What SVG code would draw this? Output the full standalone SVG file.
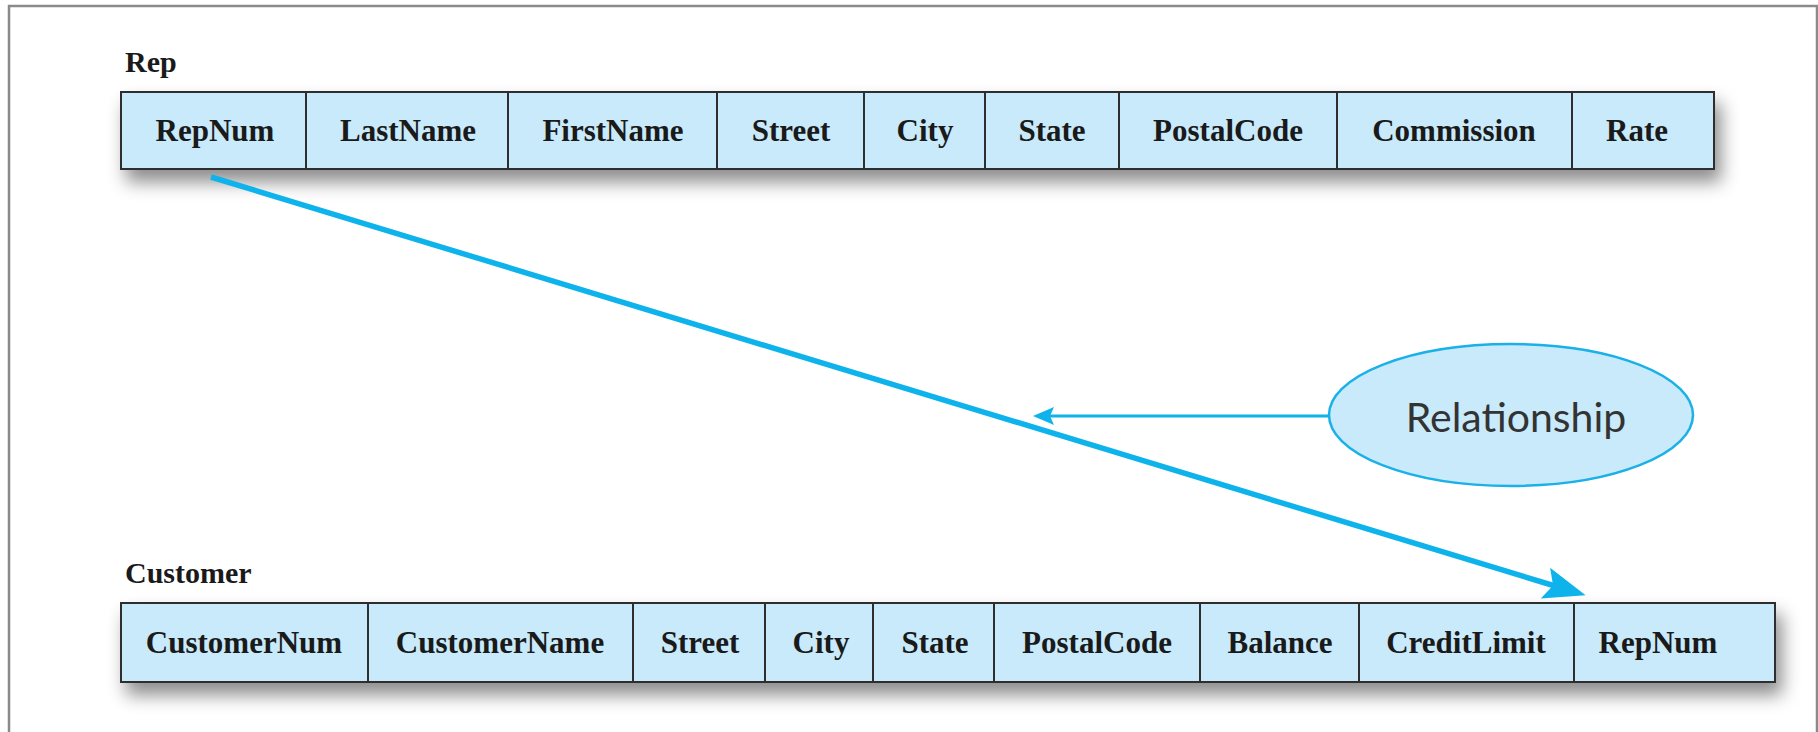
<svg xmlns="http://www.w3.org/2000/svg" width="1818" height="732" viewBox="0 0 1818 732">
<style>
.cell{fill:#c8eafb;stroke:#2e2e2e;stroke-width:2}
.div{stroke:#2e2e2e;stroke-width:2}
.ft{font-family:"Liberation Serif","Times New Roman",serif;font-weight:bold;font-size:31px;fill:#1a1a1a;text-anchor:middle}
.lbl{font-family:"Liberation Serif","Times New Roman",serif;font-weight:bold;font-size:30px;fill:#1a1a1a}
.rel{font-family:"Lato","Liberation Sans",sans-serif;font-weight:normal;font-size:41px;fill:#333;text-anchor:middle}
</style>
<defs>
<filter id="sh" x="-5%" y="-30%" width="112%" height="200%">
<feDropShadow dx="6" dy="12" stdDeviation="9" flood-color="#000" flood-opacity="0.45"/>
</filter>
<marker id="bigHead" markerUnits="userSpaceOnUse" markerWidth="50" markerHeight="40" viewBox="0 0 50 40" refX="16" refY="20" orient="auto">
<path d="M6,4 L48,20 L6,36 L14,20 Z" fill="#0fb3ec"/>
</marker>
<marker id="smallHead" markerUnits="userSpaceOnUse" markerWidth="24" markerHeight="22" viewBox="0 0 24 22" refX="5" refY="11" orient="auto">
<path d="M0,2 L21,11 L0,20 L4,11 Z" fill="#0fb3ec"/>
</marker>
</defs>
<rect width="1818" height="732" fill="#fff"/>
<path d="M9,740 L9,6 L1817,6 L1817,740" fill="none" stroke="#8a8a8a" stroke-width="2.5"/>

<g id="rep">
<text class="lbl" x="125" y="72">Rep</text>
<rect class="cell" x="121" y="92" width="1593" height="77" filter="url(#sh)"/>
<g class="div">
<line x1="306" y1="92" x2="306" y2="169"/>
<line x1="508" y1="92" x2="508" y2="169"/>
<line x1="717" y1="92" x2="717" y2="169"/>
<line x1="864" y1="92" x2="864" y2="169"/>
<line x1="985" y1="92" x2="985" y2="169"/>
<line x1="1119" y1="92" x2="1119" y2="169"/>
<line x1="1337" y1="92" x2="1337" y2="169"/>
<line x1="1572" y1="92" x2="1572" y2="169"/>
</g>
<text class="ft" x="215" y="141">RepNum</text>
<text class="ft" x="408" y="141">LastName</text>
<text class="ft" x="613" y="141">FirstName</text>
<text class="ft" x="791" y="141">Street</text>
<text class="ft" x="925" y="141">City</text>
<text class="ft" x="1052" y="141">State</text>
<text class="ft" x="1228" y="141">PostalCode</text>
<text class="ft" x="1454" y="141">Commission</text>
<text class="ft" x="1637" y="141">Rate</text>
</g>

<g id="customer">
<text class="lbl" x="125" y="583">Customer</text>
<rect class="cell" x="121" y="603" width="1654" height="79" filter="url(#sh)"/>
<g class="div">
<line x1="368" y1="603" x2="368" y2="682"/>
<line x1="633" y1="603" x2="633" y2="682"/>
<line x1="765" y1="603" x2="765" y2="682"/>
<line x1="873" y1="603" x2="873" y2="682"/>
<line x1="994" y1="603" x2="994" y2="682"/>
<line x1="1200" y1="603" x2="1200" y2="682"/>
<line x1="1359" y1="603" x2="1359" y2="682"/>
<line x1="1574" y1="603" x2="1574" y2="682"/>
</g>
<text class="ft" x="244" y="653">CustomerNum</text>
<text class="ft" x="500" y="653">CustomerName</text>
<text class="ft" x="700" y="653">Street</text>
<text class="ft" x="821" y="653">City</text>
<text class="ft" x="935" y="653">State</text>
<text class="ft" x="1097" y="653">PostalCode</text>
<text class="ft" x="1280" y="653">Balance</text>
<text class="ft" x="1466" y="653">CreditLimit</text>
<text class="ft" x="1658" y="653">RepNum</text>
</g>

<g id="relationship">
<ellipse cx="1511" cy="415" rx="182" ry="71" fill="#c8eafb" stroke="#1ab0e8" stroke-width="2.5"/>
<text class="rel" x="1516" y="432">Relationship</text>
</g>

<g id="connectors" fill="none" stroke="#0fb3ec">
<line x1="211" y1="177" x2="1555" y2="586" stroke-width="5.5" marker-end="url(#bigHead)"/>
<line x1="1329" y1="416" x2="1049" y2="416" stroke-width="3" marker-end="url(#smallHead)"/>
</g>
</svg>
